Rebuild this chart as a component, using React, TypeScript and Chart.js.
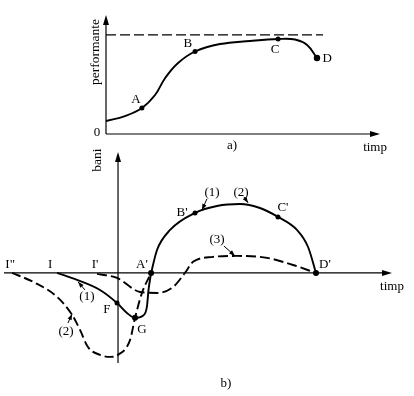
import React, { useEffect, useRef } from "react";
import { Chart, registerables } from "chart.js";
Chart.register(...registerables);

const FONT = '"Liberation Serif", "Times New Roman", serif';

// ---------- panel a) performance over time ----------
const perfTime = [0, 0.69, 1.31, 1.79, 2.16, 2.63, 3.25, 4.16, 5.26, 6.28, 6.9, 7.34, 7.7];
const perfValue = [1.31, 1.81, 2.62, 3.93, 5.65, 7.16, 8.32, 9.07, 9.38, 9.58, 9.53, 8.97, 7.66];
const perfMarkTime = [1.31, 3.25, 6.28, 7.7];
const perfMarkValue = [2.62, 8.32, 9.58, 7.66];
const perfLimit = 10;
const perfLimitEnd = 7.92;

// ---------- panel b) money over time ----------
const c1Time = [-3.08, -2.07, -0.91, -0.05, 0.45, 0.86, 1.26, 1.46, 1.54, 1.67];
const c1Money = [0, -0.35, -0.86, -1.52, -2.02, -2.27, -2.16, -1.7, -0.86, 0];
const c2Time = [-5.35, -4.29, -3.08, -2.32, -1.92, -1.52, -0.91, -0.4, 0, 0.61, 0.86, 1.21, 1.67];
const c2Money = [0, -0.45, -1.21, -2.12, -2.88, -3.74, -4.14, -4.24, -4.14, -3.38, -2.27, -1.01, 0];
const arcTime = [1.67, 1.97, 2.63, 3.89, 5.0, 6.16, 7.17, 8.08, 9.04, 9.6, 10.0];
const arcMoney = [0, 1.16, 2.17, 3.03, 3.38, 3.48, 3.28, 2.83, 2.17, 1.31, 0];
const c3Time = [-1.06, -0.05, 1.11, 1.97, 2.78, 3.38, 3.79, 4.8, 6.01, 7.53, 8.84, 10.0];
const c3Money = [-0.05, -0.25, -0.96, -1.01, -0.71, 0, 0.56, 0.81, 0.86, 0.76, 0.4, 0];
const bMarkTime = [1.67, 3.89, 8.08, 10.0, -0.05, 0.86];
const bMarkMoney = [0, 3.03, 2.83, 0, -1.52, -2.27];
const bMarkRadius = [3, 2.5, 2.5, 3, 2.5, 3];

// text annotations (data units)
const labelsA = [
  { t: "A", x: 1.09, y: 3.43 },
  { t: "B", x: 2.99, y: 9.07 },
  { t: "C", x: 6.17, y: 8.47 },
  { t: "D", x: 8.07, y: 7.56 },
  { t: "0", x: -0.33, y: 0.1 },
  { t: "a)", x: 4.6, y: -1.2 },
  { t: "timp", x: 9.82, y: -1.41 },
];
const labelsB = [
  { t: "I\"", x: -5.45, y: 0.4 },
  { t: "I", x: -3.43, y: 0.4 },
  { t: "I'", x: -1.16, y: 0.4 },
  { t: "A'", x: 1.21, y: 0.4 },
  { t: "D'", x: 10.45, y: 0.4 },
  { t: "B'", x: 3.23, y: 3.03 },
  { t: "C'", x: 8.33, y: 3.28 },
  { t: "F", x: -0.56, y: -1.87 },
  { t: "G", x: 1.21, y: -2.88 },
  { t: "(1)", x: -1.57, y: -1.21 },
  { t: "(2)", x: -2.63, y: -2.98 },
  { t: "(1)", x: 4.75, y: 4.04 },
  { t: "(2)", x: 6.21, y: 4.04 },
  { t: "(3)", x: 5.0, y: 1.67 },
  { t: "b)", x: 5.45, y: -5.6 },
  { t: "timp", x: 13.84, y: -0.71 },
];
const pointersB = [
  [-1.67, -0.86, -2.02, -0.45],
  [-2.53, -2.53, -2.32, -2.07],
  [4.49, 3.74, 4.24, 3.18],
  [6.36, 3.84, 6.57, 3.54],
  [5.35, 1.36, 5.91, 0.86],
];

const zip = (xs: number[], ys: number[]) => xs.map((x, i) => ({ x, y: ys[i] }));

function filledArrow(ctx: CanvasRenderingContext2D, x1: number, y1: number, x2: number, y2: number, len: number, hw: number) {
  const a = Math.atan2(y2 - y1, x2 - x1);
  ctx.beginPath();
  ctx.moveTo(x2, y2);
  ctx.lineTo(x2 - len * Math.cos(a) + hw * Math.sin(a), y2 - len * Math.sin(a) - hw * Math.cos(a));
  ctx.lineTo(x2 - len * Math.cos(a) - hw * Math.sin(a), y2 - len * Math.sin(a) + hw * Math.cos(a));
  ctx.closePath();
  ctx.fill();
}

function makePlugin(id: string, labels: any[], yTitle: string, yTitlePos: { x: number; y: number }, pointers: number[][], axisFromX: number) {
  return {
    id,
    beforeDatasetsDraw(chart: any) {
      const { ctx, scales } = chart;
      const X = (v: number) => scales.x.getPixelForValue(v);
      const Y = (v: number) => scales.y.getPixelForValue(v);
      ctx.save();
      ctx.strokeStyle = "#000";
      ctx.fillStyle = "#000";
      ctx.lineWidth = 1.2;
      ctx.beginPath();
      ctx.moveTo(X(axisFromX), Y(0));
      ctx.lineTo(X(scales.x.max) - 4, Y(0));
      ctx.stroke();
      filledArrow(ctx, X(0), Y(0), X(scales.x.max), Y(0), 10, 3);
      ctx.beginPath();
      ctx.moveTo(X(0), Y(scales.y.min));
      ctx.lineTo(X(0), Y(scales.y.max) + 4);
      ctx.stroke();
      filledArrow(ctx, X(0), Y(0), X(0), Y(scales.y.max), 10, 3);
      ctx.restore();
    },
    afterDatasetsDraw(chart: any) {
      const { ctx, scales } = chart;
      const X = (v: number) => scales.x.getPixelForValue(v);
      const Y = (v: number) => scales.y.getPixelForValue(v);
      ctx.save();
      ctx.fillStyle = "#000";
      ctx.strokeStyle = "#000";
      ctx.font = `13px ${FONT}`;
      ctx.textAlign = "center";
      ctx.textBaseline = "middle";
      labels.forEach((l) => ctx.fillText(l.t, X(l.x), Y(l.y)));
      ctx.save();
      ctx.translate(X(yTitlePos.x), Y(yTitlePos.y));
      ctx.rotate(-Math.PI / 2);
      ctx.font = `13.5px ${FONT}`;
      ctx.fillText(yTitle, 0, 0);
      ctx.restore();
      ctx.lineWidth = 1;
      pointers.forEach(([x1, y1, x2, y2]) => {
        ctx.beginPath();
        ctx.moveTo(X(x1), Y(y1));
        ctx.lineTo(X(x2), Y(y2));
        ctx.stroke();
        filledArrow(ctx, X(x1), Y(y1), X(x2), Y(y2), 6, 2.2);
      });
      ctx.restore();
    },
  };
}

const curve = (data: any[], dash: number[], width = 1.9, smooth: "monotone" | number = "monotone") => ({
  data,
  borderColor: "#000",
  borderWidth: width,
  borderDash: dash,
  pointRadius: 0,
  ...(smooth === "monotone" ? { cubicInterpolationMode: "monotone" as const } : { tension: smooth }),
  fill: false,
});

const marks = (data: any[], radius: number | number[]) => ({
  data,
  showLine: false,
  pointRadius: radius,
  pointBackgroundColor: "#000",
  pointBorderWidth: 0,
  borderColor: "#000",
});

const baseOptions = (padding: any, xr: number[], yr: number[]) => ({
  responsive: false,
  animation: false as const,
  events: [],
  layout: { padding },
  plugins: { legend: { display: false }, tooltip: { enabled: false } },
  scales: {
    x: { type: "linear" as const, min: xr[0], max: xr[1], display: false },
    y: { type: "linear" as const, min: yr[0], max: yr[1], display: false },
  },
});

export default function App() {
  const refA = useRef<HTMLCanvasElement>(null);
  const refB = useRef<HTMLCanvasElement>(null);

  useEffect(() => {
    const a = new Chart(refA.current!, {
      type: "line",
      data: {
        datasets: [
          curve([{ x: 0, y: perfLimit }, { x: perfLimitEnd, y: perfLimit }], [10, 4], 1.2),
          curve(zip(perfTime, perfValue), [], 1.9, 0.4),
          marks(zip(perfMarkTime, perfMarkValue), [2.5, 2.5, 2.5, 3.2]),
        ] as any,
      },
      options: baseOptions({ left: 106, right: 34, top: 15, bottom: 26 }, [0, 10], [0, 12]) as any,
      plugins: [makePlugin("pa", labelsA, "performante", { x: -0.4, y: 8.27 }, [], 0)],
    });
    const b = new Chart(refB.current!, {
      type: "line",
      data: {
        datasets: [
          curve(zip(c3Time, c3Money), [10, 4]),
          curve(zip(c2Time, c2Money), [9, 4]),
          curve(zip(c1Time, c1Money), []),
          curve(zip(arcTime, arcMoney), []),
          marks(zip(bMarkTime, bMarkMoney), bMarkRadius),
        ] as any,
      },
      options: baseOptions({ left: 4, right: 22, top: 7, bottom: 33 }, [-5.76, 13.84], [-4.55, 6.11]) as any,
      plugins: [makePlugin("pb", labelsB, "bani", { x: -1.06, y: 5.7 }, pointersB, -5.76)],
    });
    return () => {
      a.destroy();
      b.destroy();
    };
  }, []);

  return (
    <div style={{ position: "absolute", left: 0, top: 0, width: 414, height: 396, background: "#fff" }}>
      <canvas ref={refA} width={414} height={160} style={{ position: "absolute", left: 0, top: 0 }} />
      <canvas ref={refB} width={414} height={251} style={{ position: "absolute", left: 0, top: 145 }} />
    </div>
  );
}
